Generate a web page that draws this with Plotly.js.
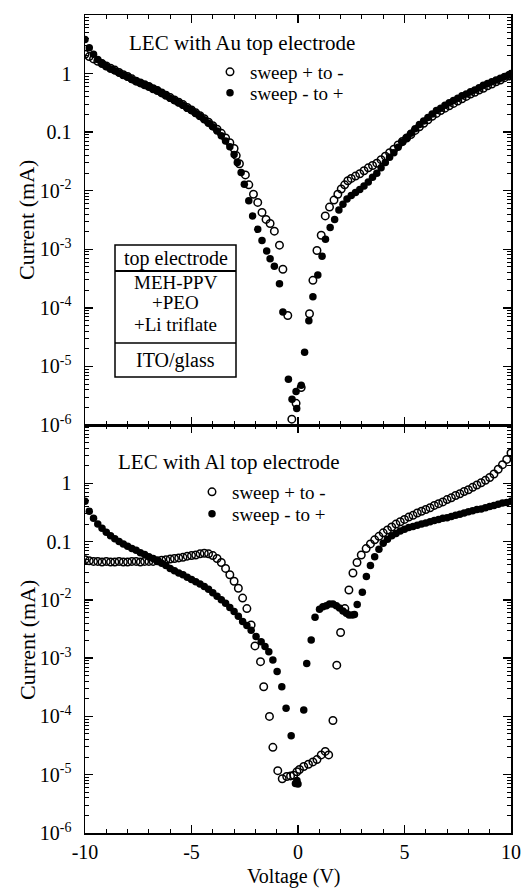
<!DOCTYPE html>
<html><head><meta charset="utf-8">
<script src="https://cdn.plot.ly/plotly-3.0.1.min.js"></script>
<style>html,body{margin:0;padding:0;background:#fff}</style>
</head><body><div id="chart" style="width:523px;height:888px"></div>
<script>
// ---- Data (voltage in V, current as log10 of mA) ----
// Top panel: LEC with Au top electrode
const auOpenV = [-10,-9.8,-9.6,-9.4,-9.2,-9,-8.8,-8.6,-8.4,-8.2,-8,-7.8,-7.6,-7.4,-7.2,-7,-6.8,-6.6,-6.4,-6.2,-6,-5.8,-5.6,-5.4,-5.2,-5,-4.8,-4.6,-4.4,-4.2,-4,-3.8,-3.6,-3.4,-3.2,-3,-2.9,-2.75,-2.47,-2.31,-2.09,-1.89,-1.69,-1.5,-1.31,-1.11,-0.87,-0.71,-0.48,-0.29,-0.09,0.15,0.54,0.7,0.89,1.09,1.28,1.48,1.69,1.87,2.03,2.19,2.34,2.5,2.7,2.9,3.1,3.3,3.5,3.7,3.9,4.1,4.3,4.5,4.7,4.9,5.1,5.3,5.5,5.7,5.9,6.1,6.3,6.5,6.7,6.9,7.1,7.3,7.5,7.7,7.9,8.1,8.3,8.5,8.7,8.9,9.1,9.3,9.5,9.7,9.9,10];
const auOpenLogI = [0.33,0.29,0.25,0.21,0.17,0.13,0.09,0.06,0.02,-0.02,-0.05,-0.09,-0.13,-0.16,-0.19,-0.22,-0.26,-0.29,-0.33,-0.37,-0.41,-0.45,-0.49,-0.53,-0.58,-0.62,-0.67,-0.72,-0.77,-0.83,-0.89,-0.95,-1.02,-1.10,-1.18,-1.28,-1.40,-1.54,-1.73,-1.90,-2.06,-2.20,-2.37,-2.49,-2.56,-2.69,-2.93,-3.34,-4.13,-5.90,-5.63,-5.36,-4.10,-3.53,-3.02,-2.76,-2.43,-2.28,-2.16,-2.06,-1.97,-1.90,-1.83,-1.79,-1.75,-1.71,-1.66,-1.61,-1.57,-1.53,-1.47,-1.41,-1.35,-1.29,-1.22,-1.16,-1.10,-1.04,-0.97,-0.91,-0.85,-0.79,-0.73,-0.68,-0.63,-0.59,-0.55,-0.51,-0.47,-0.43,-0.39,-0.35,-0.32,-0.28,-0.25,-0.21,-0.18,-0.14,-0.11,-0.07,-0.04,-0.02];
const auFilledV = [-10,-9.8,-9.6,-9.4,-9.2,-9,-8.8,-8.6,-8.4,-8.2,-8,-7.8,-7.6,-7.4,-7.2,-7,-6.8,-6.6,-6.4,-6.2,-6,-5.8,-5.6,-5.4,-5.2,-5,-4.8,-4.6,-4.4,-4.2,-4,-3.8,-3.6,-3.4,-3.2,-3,-2.85,-2.67,-2.52,-2.31,-2.13,-1.89,-1.69,-1.47,-1.31,-1.11,-0.87,-0.71,-0.45,-0.28,-0.09,-0.06,0.15,0.31,0.51,0.7,0.93,1.13,1.29,1.51,1.72,1.92,2.11,2.3,2.5,2.7,2.9,3.1,3.3,3.5,3.7,3.9,4.1,4.3,4.5,4.7,4.9,5.1,5.3,5.5,5.7,5.9,6.1,6.3,6.5,6.7,6.9,7.1,7.3,7.5,7.7,7.9,8.1,8.3,8.5,8.7,8.9,9.1,9.3,9.5,9.7,9.9,10];
const auFilledLogI = [0.58,0.44,0.33,0.24,0.17,0.12,0.08,0.05,0.01,-0.03,-0.06,-0.10,-0.13,-0.16,-0.19,-0.22,-0.26,-0.29,-0.33,-0.37,-0.42,-0.46,-0.50,-0.54,-0.59,-0.63,-0.68,-0.73,-0.79,-0.85,-0.91,-0.98,-1.06,-1.15,-1.25,-1.38,-1.52,-1.69,-1.89,-2.17,-2.43,-2.66,-2.85,-3.03,-3.16,-3.29,-3.59,-4.07,-5.22,-5.56,-5.43,-5.72,-5.32,-4.76,-4.22,-3.81,-3.44,-3.12,-2.83,-2.63,-2.49,-2.33,-2.23,-2.14,-2.08,-2.03,-1.98,-1.92,-1.85,-1.77,-1.70,-1.61,-1.52,-1.43,-1.35,-1.26,-1.17,-1.10,-1.02,-0.94,-0.87,-0.81,-0.75,-0.69,-0.63,-0.59,-0.54,-0.50,-0.46,-0.42,-0.38,-0.35,-0.31,-0.28,-0.24,-0.20,-0.17,-0.14,-0.11,-0.08,-0.05,-0.02,0.0];
// Bottom panel: LEC with Al top electrode
const alOpenV = [-10,-9.8,-9.6,-9.4,-9.2,-9,-8.8,-8.6,-8.4,-8.2,-8,-7.8,-7.6,-7.4,-7.2,-7,-6.8,-6.6,-6.4,-6.2,-6,-5.8,-5.6,-5.4,-5.2,-5,-4.8,-4.6,-4.4,-4.2,-4,-3.8,-3.6,-3.4,-3.2,-3,-2.8,-2.6,-2.4,-2.2,-2.02,-1.76,-1.61,-1.34,-1.18,-0.95,-0.74,-0.53,-0.35,-0.2,-0.05,0.07,0.27,0.49,0.7,0.89,1.09,1.28,1.44,1.64,1.82,2,2.2,2.39,2.58,2.77,2.97,3.2,3.4,3.6,3.8,4,4.2,4.4,4.6,4.8,5,5.2,5.4,5.6,5.8,6,6.2,6.4,6.6,6.8,7,7.2,7.4,7.6,7.8,8,8.2,8.4,8.6,8.8,9,9.2,9.4,9.6,9.8,10];
const alOpenLogI = [-1.31,-1.33,-1.34,-1.34,-1.35,-1.34,-1.35,-1.35,-1.34,-1.35,-1.35,-1.34,-1.34,-1.35,-1.34,-1.34,-1.34,-1.33,-1.32,-1.31,-1.30,-1.29,-1.28,-1.27,-1.25,-1.24,-1.23,-1.21,-1.20,-1.21,-1.24,-1.29,-1.36,-1.46,-1.57,-1.68,-1.80,-1.97,-2.15,-2.43,-2.79,-3.06,-3.49,-4.00,-4.53,-4.93,-5.07,-5.03,-5.02,-5.01,-4.95,-4.91,-4.86,-4.82,-4.78,-4.74,-4.66,-4.60,-4.66,-4.07,-3.12,-2.56,-2.15,-1.83,-1.54,-1.36,-1.23,-1.12,-1.04,-0.97,-0.91,-0.85,-0.80,-0.75,-0.70,-0.66,-0.62,-0.58,-0.55,-0.51,-0.48,-0.45,-0.42,-0.38,-0.35,-0.32,-0.28,-0.25,-0.21,-0.18,-0.14,-0.11,-0.07,-0.03,0.01,0.05,0.10,0.16,0.24,0.32,0.41,0.52];
const alFilledV = [-10,-9.8,-9.6,-9.4,-9.2,-9,-8.8,-8.6,-8.4,-8.2,-8,-7.8,-7.6,-7.4,-7.2,-7,-6.8,-6.6,-6.4,-6.2,-6,-5.8,-5.6,-5.4,-5.2,-5,-4.8,-4.6,-4.4,-4.2,-4,-3.8,-3.6,-3.4,-3.2,-3,-2.8,-2.6,-2.4,-2.2,-1.97,-1.73,-1.55,-1.37,-1.18,-0.98,-0.76,-0.56,-0.32,-0.12,-0.05,0,0.27,0.41,0.62,0.8,1.01,1.17,1.33,1.48,1.64,1.8,1.95,2.11,2.27,2.4,2.55,2.65,2.78,3.02,3.21,3.4,3.6,3.8,4,4.2,4.4,4.6,4.8,5,5.2,5.4,5.6,5.8,6,6.2,6.4,6.6,6.8,7,7.2,7.4,7.6,7.8,8,8.2,8.4,8.6,8.8,9,9.2,9.4,9.6,9.8,10];
const alFilledLogI = [-0.31,-0.48,-0.60,-0.70,-0.77,-0.84,-0.90,-0.95,-1.00,-1.04,-1.08,-1.12,-1.15,-1.19,-1.22,-1.26,-1.29,-1.33,-1.37,-1.41,-1.46,-1.50,-1.54,-1.57,-1.61,-1.65,-1.69,-1.73,-1.77,-1.82,-1.88,-1.94,-2.00,-2.06,-2.13,-2.20,-2.28,-2.37,-2.44,-2.52,-2.63,-2.72,-2.80,-2.89,-3.03,-3.23,-3.49,-3.86,-4.33,-5.15,-5.10,-5.16,-3.89,-3.09,-2.69,-2.30,-2.16,-2.12,-2.10,-2.07,-2.07,-2.10,-2.14,-2.19,-2.23,-2.26,-2.26,-2.25,-2.08,-1.87,-1.60,-1.41,-1.26,-1.13,-1.03,-0.96,-0.90,-0.86,-0.82,-0.79,-0.76,-0.74,-0.72,-0.70,-0.68,-0.66,-0.64,-0.62,-0.60,-0.59,-0.57,-0.55,-0.53,-0.51,-0.49,-0.47,-0.45,-0.44,-0.42,-0.40,-0.38,-0.36,-0.34,-0.33,-0.31];

const seriesNames = ['sweep + to -', 'sweep - to +'];
const panelTitles = ['LEC with Au top electrode', 'LEC with Al top electrode'];
const xTickVals = [-10, -5, 0, 5, 10];
const xTickText = ['-10', '-5', '0', '5', '10'];
const yTickVals = [1e-6, 1e-5, 1e-4, 1e-3, 1e-2, 0.1, 1];
const yTickText = ['10<sup>-6</sup>', '10<sup>-5</sup>', '10<sup>-4</sup>', '10<sup>-3</sup>', '10<sup>-2</sup>', '0.1', '1'];
const stackLayers = ['top electrode', 'MEH-PPV', '+PEO', '+Li triflate', 'ITO/glass'];

const toCurrent = a => a.map(v => Math.pow(10, v));
const FONT = 'Liberation Serif, Times New Roman, serif';

const minorVals = [];
for (let e = -6; e <= 0; e++) for (let m = 2; m <= 9; m++) minorVals.push(m * Math.pow(10, e));

const openMarker = {symbol: 'circle-open', size: 7.5, color: '#000', line: {width: 1.5, color: '#000'}};
const filledMarker = {symbol: 'circle', size: 7.5, color: '#000'};

const traces = [
  {x: auOpenV, y: toCurrent(auOpenLogI), xaxis: 'x2', yaxis: 'y2', mode: 'markers', name: seriesNames[0], marker: openMarker, legend: 'legend'},
  {x: auFilledV, y: toCurrent(auFilledLogI), xaxis: 'x2', yaxis: 'y2', mode: 'markers', name: seriesNames[1], marker: filledMarker, legend: 'legend2'},
  {x: alOpenV, y: toCurrent(alOpenLogI), xaxis: 'x', yaxis: 'y', mode: 'markers', name: seriesNames[0], marker: openMarker, legend: 'legend3'},
  {x: alFilledV, y: toCurrent(alFilledLogI), xaxis: 'x', yaxis: 'y', mode: 'markers', name: seriesNames[1], marker: filledMarker, legend: 'legend4'}
];

const split = 408 / 818;
const xBase = {
  range: [-10, 10], tickmode: 'array', tickvals: xTickVals, ticktext: xTickText,
  ticks: 'inside', ticklen: 8, tickwidth: 1.3, tickcolor: '#000', mirror: 'ticks',
  showline: true, linewidth: 1.5, linecolor: '#000', showgrid: false, zeroline: false,
  minor: {tickmode: 'linear', tick0: 0, dtick: 1, ticks: 'inside', ticklen: 4, tickwidth: 1, tickcolor: '#000', showgrid: false},
  tickfont: {family: FONT, size: 20, color: '#000'}
};
const yBase = {
  type: 'log', range: [-6, 1], tickmode: 'array', tickvals: yTickVals, ticktext: yTickText,
  ticks: 'inside', ticklen: 8, tickwidth: 1.3, tickcolor: '#000', mirror: 'ticks',
  showline: true, linewidth: 1.5, linecolor: '#000', showgrid: false, zeroline: false,
  minor: {tickmode: 'array', tickvals: minorVals, ticks: 'inside', ticklen: 4, tickwidth: 1, tickcolor: '#000', showgrid: false},
  tickfont: {family: FONT, size: 20, color: '#000'}, ticklabelstandoff: 8
};

const legBase = {bgcolor: 'rgba(0,0,0,0)', borderwidth: 0, font: {family: FONT, size: 19, color: '#000'}, xanchor: 'left', yanchor: 'middle', tracegroupgap: 0};

const px = p => (p - 85) / 426;
const py = p => (833 - p) / 818;

const ann = (text, x, y, opts) => Object.assign({text, x, y, xref: 'paper', yref: 'paper', showarrow: false, font: {family: FONT, size: 21, color: '#000'}}, opts || {});
const boxFont = {family: FONT, size: 19, color: '#000'};

const layout = {
  width: 523, height: 888,
  margin: {l: 85, r: 12, t: 15, b: 55},
  paper_bgcolor: '#fff', plot_bgcolor: '#fff',
  showlegend: true,
  xaxis: Object.assign({}, xBase, {anchor: 'y', domain: [0, 1]}),
  xaxis2: Object.assign({}, xBase, {anchor: 'y2', domain: [0, 1], matches: 'x', showticklabels: false}),
  yaxis: Object.assign({}, yBase, {anchor: 'x', domain: [0, split]}),
  yaxis2: Object.assign({}, yBase, {anchor: 'x2', domain: [split, 1]}),
  legend: Object.assign({}, legBase, {x: px(210), y: py(72)}),
  legend2: Object.assign({}, legBase, {x: px(210), y: py(93)}),
  legend3: Object.assign({}, legBase, {x: px(192), y: py(492)}),
  legend4: Object.assign({}, legBase, {x: px(192), y: py(514)}),
  annotations: [
    ann(panelTitles[0], px(127), py(43), {xanchor: 'left', yanchor: 'middle'}),
    ann(panelTitles[1], px(116), py(462), {xanchor: 'left', yanchor: 'middle'}),
    ann(stackLayers[0], px(175.5), py(258), {xanchor: 'center', yanchor: 'middle', font: Object.assign({}, boxFont, {size: 20})}),
    ann(stackLayers[1], px(175.5), py(282), {xanchor: 'center', yanchor: 'middle', font: boxFont}),
    ann(stackLayers[2], px(175.5), py(303), {xanchor: 'center', yanchor: 'middle', font: boxFont}),
    ann(stackLayers[3], px(175.5), py(324), {xanchor: 'center', yanchor: 'middle', font: boxFont}),
    ann(stackLayers[4], px(175.5), py(360), {xanchor: 'center', yanchor: 'middle', font: Object.assign({}, boxFont, {size: 20})}),
    ann('Current (mA)', px(27), py(220), {xanchor: 'center', yanchor: 'middle', textangle: -90, font: {family: FONT, size: 22, color: '#000'}}),
    ann('Current (mA)', px(27), py(640), {xanchor: 'center', yanchor: 'middle', textangle: -90, font: {family: FONT, size: 22, color: '#000'}}),
    ann('Voltage (V)', px(294), py(877), {xanchor: 'center', yanchor: 'middle', font: {family: FONT, size: 20, color: '#000'}})
  ],
  shapes: [
    {type: 'rect', xref: 'paper', yref: 'paper', x0: px(115), x1: px(236), y0: py(377), y1: py(245), line: {color: '#000', width: 1.5}},
    {type: 'line', xref: 'paper', yref: 'paper', x0: px(115), x1: px(236), y0: py(271), y1: py(271), line: {color: '#000', width: 2}},
    {type: 'line', xref: 'paper', yref: 'paper', x0: px(115), x1: px(236), y0: py(343), y1: py(343), line: {color: '#000', width: 1.5}}
  ]
};

Plotly.newPlot('chart', traces, layout, {staticPlot: true, displayModeBar: false});
</script></body></html>
